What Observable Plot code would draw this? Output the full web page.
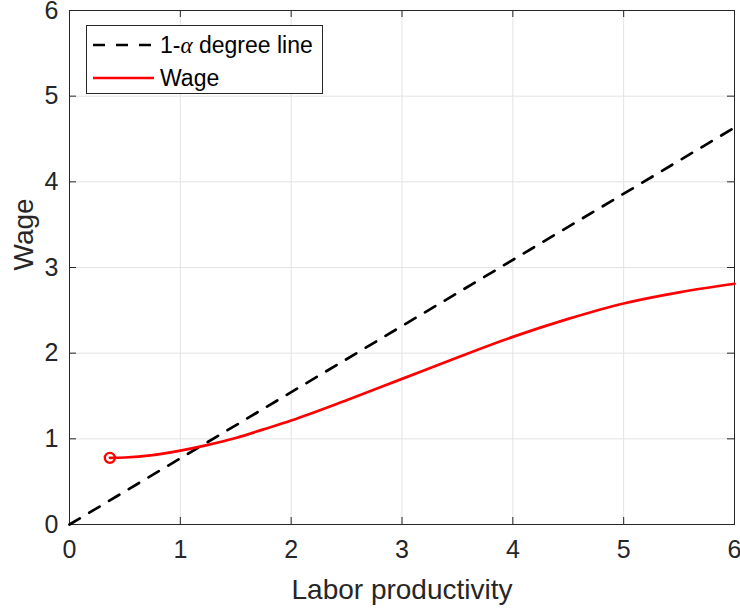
<!DOCTYPE html>
<html>
<head>
<meta charset="utf-8">
<script src="https://cdn.jsdelivr.net/npm/d3@7"></script>
<script src="https://cdn.jsdelivr.net/npm/@observablehq/plot@0.6"></script>
<style>
  html, body { margin: 0; padding: 0; background: #fff; }
  #wrap { position: relative; width: 740px; height: 609px; font-family: "Liberation Sans", Arial, Helvetica, sans-serif; }
  #legend { position: absolute; left: 86px; top: 25px; width: 235px; height: 67px; border: 1px solid #262626; background: #fff; }
</style>
</head>
<body>
<div id="wrap"></div>
<script>
// ---- data ----
const xTicks = [0, 1, 2, 3, 4, 5, 6];
const yTicks = [0, 1, 2, 3, 4, 5, 6];
const degreeX = [0, 6];
const degreeY = [0, 4.633];
const wageX = [0.364, 0.5, 0.75, 1.0, 1.25, 1.5, 1.75, 2.0, 2.5, 3.0, 3.5, 4.0, 4.5, 5.0, 5.5, 6.0];
const wageY = [0.778, 0.782, 0.81, 0.863, 0.93, 1.01, 1.11, 1.213, 1.45, 1.70, 1.95, 2.19, 2.40, 2.58, 2.71, 2.81];
const xLabel = ["Labor productivity"];
const yLabel = ["Wage"];
const legendLabels = ["1-", "\u03b1", " degree line", "Wage"];

const degree = degreeX.map((x, i) => ({x, y: degreeY[i]}));
const wage = wageX.map((x, i) => ({x, y: wageY[i]}));

const W = 740, H = 609, mT = 10, mB = 85, mL = 69, mR = 6;
const frameH = H - mT - mB, frameW = W - mL - mR;
const tickLen = 7;
const ink = "#262626";

const chart = Plot.plot({
  width: W, height: H,
  marginTop: mT, marginBottom: mB, marginLeft: mL, marginRight: mR,
  style: {fontFamily: '"Liberation Sans", Arial, Helvetica, sans-serif', background: "#fff", color: ink},
  x: {domain: [0, 6], axis: null},
  y: {domain: [0, 6], axis: null},
  marks: [
    Plot.ruleX(xTicks.slice(1, -1), {x: d => d, stroke: "#e3e3e3", strokeWidth: 1}),
    Plot.ruleY(yTicks.slice(1, -1), {y: d => d, stroke: "#e3e3e3", strokeWidth: 1}),
    // inward ticks (bottom/top, left/right)
    Plot.tickX(xTicks, {x: d => d, stroke: ink, insetTop: frameH - tickLen}),
    Plot.tickX(xTicks, {x: d => d, stroke: ink, insetBottom: frameH - tickLen}),
    Plot.tickY(yTicks, {y: d => d, stroke: ink, insetRight: frameW - tickLen}),
    Plot.tickY(yTicks, {y: d => d, stroke: ink, insetLeft: frameW - tickLen}),
    Plot.frame({stroke: ink, strokeWidth: 1}),
    Plot.axisX(xTicks, {tickSize: 0, tickPadding: 16, tickFormat: d => String(d), label: null, fontSize: 25, fill: ink}),
    Plot.axisY(yTicks, {tickSize: 0, tickPadding: 11, tickFormat: d => String(d), label: null, fontSize: 25, fill: ink}),
    Plot.text(xLabel, {text: d => d, frameAnchor: "bottom", dy: 66, lineAnchor: "middle", fontSize: 28, fill: ink}),
    Plot.text(yLabel, {text: d => d, frameAnchor: "left", dx: -45, dy: 3, rotate: -90, lineAnchor: "middle", fontSize: 28, fill: ink}),
    Plot.line(degree, {x: "x", y: "y", stroke: "#000", strokeWidth: 2.7, strokeDasharray: "12,11"}),
    Plot.line(wage, {x: "x", y: "y", stroke: "#ff0000", strokeWidth: 2.7, curve: "monotone-x"}),
    Plot.dot(wage.slice(0, 1), {x: "x", y: "y", r: 5, stroke: "#ff0000", strokeWidth: 2.4, fill: "none"})
  ]
});

const wrap = document.getElementById("wrap");
wrap.appendChild(chart);

const legend = document.createElement("div");
legend.id = "legend";
legend.innerHTML = `
<svg width="235" height="67" style="display:block">
  <line x1="6" y1="19" x2="67" y2="19" stroke="#000" stroke-width="2.7" stroke-dasharray="12,11"></line>
  <text x="73" y="27" font-size="23" fill="#000" font-family="Liberation Sans, Arial, sans-serif">${legendLabels[0]}<tspan font-family="Liberation Serif, Times New Roman, serif" font-style="italic">${legendLabels[1]}</tspan>${legendLabels[2]}</text>
  <line x1="6" y1="52" x2="67" y2="52" stroke="#ff0000" stroke-width="2.7"></line>
  <text x="73" y="60" font-size="23" fill="#000" font-family="Liberation Sans, Arial, sans-serif">${legendLabels[3]}</text>
</svg>`;
wrap.appendChild(legend);
</script>
</body>
</html>
